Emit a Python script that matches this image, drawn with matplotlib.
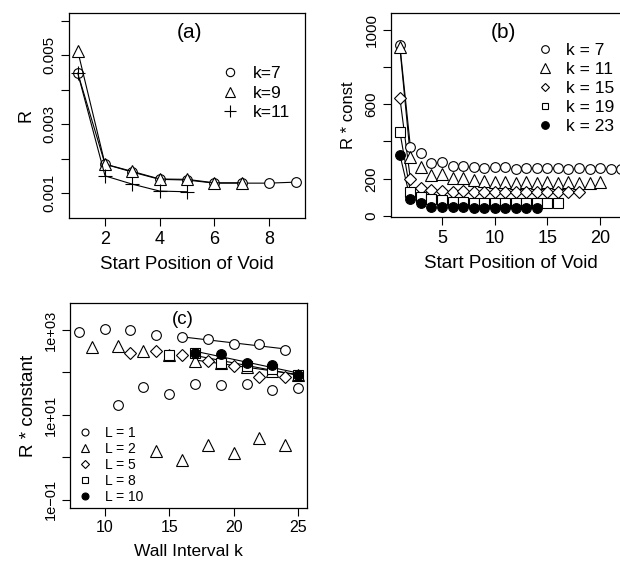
import numpy as np
import matplotlib
matplotlib.use("Agg")
import matplotlib.pyplot as plt
from matplotlib.lines import Line2D

plt.rcParams["font.family"] = ["Liberation Sans", "DejaVu Sans"]

# Panel (a): R against start position of void
pos_k7 = [1, 2, 3, 4, 5, 6, 7, 8, 9]
r_k7 = [0.00448, 0.00184, 0.00161, 0.00140, 0.00138, 0.00129, 0.00129, 0.00129, 0.00132]
pos_k9 = [1, 2, 3, 4, 5, 6, 7]
r_k9 = [0.00512, 0.00184, 0.00163, 0.00141, 0.00140, 0.00130, 0.00130]
pos_k11 = [1, 2, 3, 4, 5]
r_k11 = [0.00448, 0.00150, 0.00126, 0.00106, 0.00104]

# Panel (b): R * const against start position of void
b_k7 = [916, 371, 336, 282, 288, 270, 270, 264, 259, 264, 262,
        255, 260, 258, 256, 258, 255, 257, 255, 256, 255, 255]
b_k11 = [905, 318, 264, 220, 225, 202, 205, 193, 190, 184,
         182, 180, 182, 180, 181, 180, 181, 180, 180, 182]
b_k15 = [634, 198, 148, 139, 134, 130, 134, 130, 130,
         127, 128, 127, 128, 127, 128, 127, 128, 127]
b_k19 = [452, 130, 100, 89, 86, 77, 77, 71, 71, 70, 70, 69, 70, 69, 70, 70]
b_k23 = [330, 89, 68, 50, 50, 46, 46, 45, 45, 45, 44, 45, 44, 45]

# Panel (c): R * constant against wall interval k (log scale)
c_k_L1 = [8, 10, 11, 12, 13, 14, 15, 16, 17, 18, 19, 20, 21, 22, 23, 24, 25]
c_L1 = [910, 1040, 17, 1000, 45, 760, 31, 675, 54, 603, 51, 468, 54, 468, 39, 338, 43]
c_k_L2 = [9, 11, 13, 14, 15, 16, 17, 18, 19, 20, 21, 22, 23, 24, 25]
c_L2 = [400, 420, 320, 1.4, 260, 0.87, 190, 2.0, 165, 1.3, 137, 2.8, 110, 2.0, 87]
c_k_L5 = [12, 14, 16, 18, 20, 22, 24]
c_L5 = [282, 326, 258, 187, 142, 80, 80]
c_k_L8 = [15, 17, 19, 21, 23, 25]
c_L8 = [260, 283, 164, 142, 118, 87]
c_k_L10 = [17, 19, 21, 23, 25]
c_L10 = [283, 272, 164, 150, 87]

W, H = 620, 563
fig = plt.figure(figsize=(W / 100, H / 100), dpi=100)


def px_axes(left, top, right, bottom):
    return fig.add_axes([left / W, 1 - bottom / H, (right - left) / W, (bottom - top) / H])


def style(ax, xt, yt):
    ax.tick_params(axis="both", direction="out", length=6, width=0.8, pad=3)
    ax.tick_params(axis="x", labelsize=xt)
    ax.tick_params(axis="y", labelsize=yt)
    for lab in ax.get_yticklabels():
        lab.set_rotation(90)
        lab.set_va("center")
    for s in ax.spines.values():
        s.set_linewidth(0.9)


open_kw = dict(color="black", mfc="white", mec="black", mew=0.8, lw=0.8)

# ---------------- (a) ----------------
ax_a = px_axes(69, 13, 305, 218)
ax_a.plot(pos_k7, r_k7, marker="o", ms=7, **open_kw)
ax_a.plot(pos_k9, r_k9, marker="^", ms=8, **open_kw)
ax_a.plot(pos_k11, r_k11, marker="+", ms=10, color="black", mew=0.8, lw=0.8)
ax_a.set_xlim(0.68, 9.32)
ax_a.set_ylim(0.00028, 0.00622)
ax_a.set_xticks([2, 4, 6, 8])
ax_a.set_yticks([0.001, 0.002, 0.003, 0.004, 0.005, 0.006])
ax_a.set_yticklabels(["0.001", "", "0.003", "", "0.005", ""])
style(ax_a, 13, 11)
ax_a.set_xlabel("Start Position of Void", fontsize=13.5, labelpad=6)
ax_a.set_ylabel("R", fontsize=13, labelpad=6)
ax_a.text(0.51, 0.905, "(a)", transform=ax_a.transAxes, fontsize=15, ha="center", va="center")
h_a = [Line2D([], [], ls="none", marker="o", ms=6, mfc="white", mec="black", mew=0.8),
       Line2D([], [], ls="none", marker="^", ms=7, mfc="white", mec="black", mew=0.8),
       Line2D([], [], ls="none", marker="+", ms=9, color="black", mew=0.8)]
ax_a.legend(h_a, ["k=7", "k=9", "k=11"], loc="upper left", bbox_to_anchor=(0.64, 0.74),
            frameon=False, fontsize=12.5, handlelength=1.2, handletextpad=0.7,
            labelspacing=0.25, borderpad=0, borderaxespad=0)

# ---------------- (b) ----------------
ax_b = px_axes(391, 13, 630, 217)
b_series = [(b_k7, "o", 7, "white"), (b_k11, "^", 8, "white"), (b_k15, "D", 6, "white"),
            (b_k19, "s", 6.5, "white"), (b_k23, "o", 7, "black")]
for vals, m, ms, fc in b_series:
    x = np.arange(1, len(vals) + 1)
    ax_b.plot(x[:2], vals[:2], color="black", lw=0.8)
for vals, m, ms, fc in b_series:
    x = np.arange(1, len(vals) + 1)
    ax_b.plot(x, vals, ls="none", marker=m, ms=ms, mfc=fc, mec="black", mew=0.8)
ax_b.set_xlim(0.16, 22.84)
ax_b.set_ylim(-5, 1089)
ax_b.set_xticks([5, 10, 15, 20])
ax_b.set_yticks([0, 200, 400, 600, 800, 1000])
ax_b.set_yticklabels(["0", "200", "", "600", "", "1000"])
style(ax_b, 13, 11)
ax_b.set_xlabel("Start Position of Void", fontsize=13.5, labelpad=6)
ax_b.set_ylabel("R * const", fontsize=12, labelpad=6)
ax_b.text(0.47, 0.905, "(b)", transform=ax_b.transAxes, fontsize=15, ha="center", va="center")
h_b = [Line2D([], [], ls="none", marker=m, ms=ms - 1.5, mfc=fc, mec="black", mew=0.8)
       for vals, m, ms, fc in b_series]
ax_b.legend(h_b, ["k = 7", "k = 11", "k = 15", "k = 19", "k = 23"], loc="upper left",
            bbox_to_anchor=(0.6, 0.855), frameon=False, fontsize=12.5, handlelength=1.2,
            handletextpad=0.6, labelspacing=0.22, borderpad=0, borderaxespad=0)

# ---------------- (c) ----------------
ax_c = px_axes(70, 303, 307, 508)
k1 = np.array(c_k_L1)
v1 = np.array(c_L1)
k2 = np.array(c_k_L2)
v2 = np.array(c_L2)
fits = [(k1[(k1 >= 16) & (k1 % 2 == 0)], v1[(k1 >= 16) & (k1 % 2 == 0)]),
        (k2[(k2 >= 17) & (k2 % 2 == 1)], v2[(k2 >= 17) & (k2 % 2 == 1)]),
        (np.array(c_k_L8[1:]), np.array(c_L8[1:])),
        (np.array(c_k_L10), np.array(c_L10))]
for kk, vv in fits:
    coef = np.polyfit(kk, np.log10(vv), 1)
    xs = np.array([kk.min(), kk.max()])
    ax_c.plot(xs, 10 ** np.polyval(coef, xs), color="black", lw=0.8)

c_series = [(c_k_L1, c_L1, "o", 7, "white"), (c_k_L2, c_L2, "^", 8, "white"),
            (c_k_L5, c_L5, "D", 6, "white"), (c_k_L8, c_L8, "s", 6.5, "white"),
            (c_k_L10, c_L10, "o", 7, "black")]
for kk, vv, m, ms, fc in c_series:
    ax_c.plot(kk, vv, ls="none", marker=m, ms=ms, mfc=fc, mec="black", mew=0.8)
ax_c.set_yscale("log")
ax_c.set_xlim(7.32, 25.68)
ax_c.set_ylim(10 ** -1.19, 10 ** 3.635)
ax_c.set_xticks([10, 15, 20, 25])
ax_c.set_yticks([0.1, 1, 10, 100, 1000])
ax_c.set_yticklabels(["1e\u221201", "", "1e+01", "", "1e+03"])
ax_c.yaxis.set_minor_locator(matplotlib.ticker.NullLocator())
style(ax_c, 11.5, 10.5)
ax_c.set_xlabel("Wall Interval k", fontsize=12.5, labelpad=6)
ax_c.set_ylabel("R * constant", fontsize=13.5, labelpad=5)
ax_c.text(0.475, 0.92, "(c)", transform=ax_c.transAxes, fontsize=13.5, ha="center", va="center")
h_c = [Line2D([], [], ls="none", marker=m, ms=ms - 2, mfc=fc, mec="black", mew=0.8)
       for kk, vv, m, ms, fc in c_series]
ax_c.legend(h_c, ["L = 1", "L = 2", "L = 5", "L = 8", "L = 10"], loc="lower left",
            bbox_to_anchor=(0.03, 0.02), frameon=False, fontsize=10, handlelength=1.2,
            handletextpad=0.8, labelspacing=0.15, borderpad=0, borderaxespad=0)

fig.savefig("out.png", dpi=100)
